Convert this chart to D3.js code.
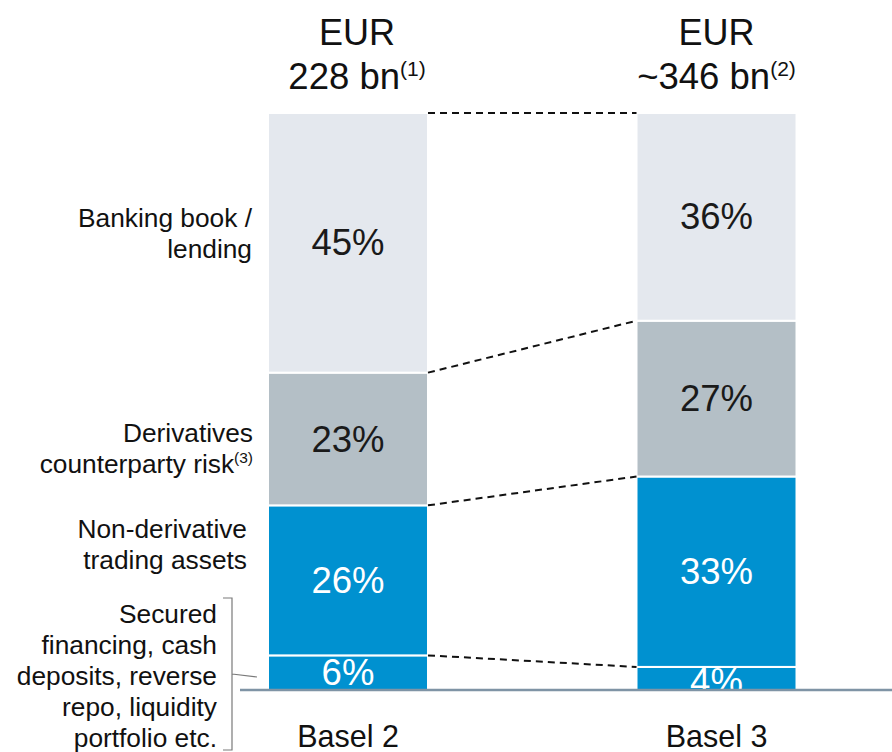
<!DOCTYPE html>
<html>
<head>
<meta charset="utf-8">
<script src="https://d3js.org/d3.v7.min.js"></script>
<style>
    body { margin: 0; background: #fff; }
    text { font-family: 'Liberation Sans', Arial, sans-serif; }
</style>
</head>
<body>
<div id="chart"></div>
<script>
    // chart data
    var periods = ["Basel 2", "Basel 3"];
    var totals = ["228 bn", "~346 bn"];
    var totalNotes = ["(1)", "(2)"];
    // stacked from the bottom up
    var segments = ["Secured financing", "Non-derivative trading", "Derivatives counterparty risk", "Banking book"];
    var basel2 = [6, 26, 23, 45];
    var basel3 = [4, 33, 27, 36];
    var values = [basel2, basel3];

    var width = 892, height = 752;
    var barWidth = 160;
    var colors = ["#0091d0", "#0091d0", "#b4bfc6", "#e4e8ee"];
    var textColors = ["#ffffff", "#ffffff", "#1a1a1a", "#1a1a1a"];

    var svg = d3.select("#chart").append("svg")
        .attr("width", width)
        .attr("height", height);

    var x = d3.scalePoint().domain(periods).range([348, 716.5]);
    var y = d3.scaleLinear().domain([0, 100]).range([690, 113]);

    // build stack
    var stacked = periods.map(function(p, i) {
        var acc = 0;
        return values[i].map(function(v, j) {
            var s = {period: p, idx: j, y0: acc, y1: acc + v, v: v};
            acc += v;
            return s;
        });
    });

    svg.append("clipPath").attr("id", "plotclip")
        .append("rect").attr("x", 0).attr("y", 0).attr("width", width).attr("height", y(0));

    var bars = svg.append("g").attr("clip-path", "url(#plotclip)");

    stacked.forEach(function(col) {
        bars.selectAll(null)
            .data(col)
            .enter()
            .append("rect")
            .attr("x", function(d) { return x(d.period) - barWidth / 2; })
            .attr("y", function(d) { return y(d.y1); })
            .attr("width", barWidth)
            .attr("height", function(d) { return y(d.y0) - y(d.y1); })
            .attr("fill", function(d) { return colors[d.idx]; })
            .attr("stroke", "#fff")
            .attr("stroke-width", 2);

        bars.selectAll(null)
            .data(col)
            .enter()
            .append("text")
            .attr("x", function(d) { return x(d.period); })
            .attr("y", function(d) {
                var c = (y(d.y0) + y(d.y1)) / 2;
                // small segments: keep label just under the top edge
                return Math.max(c, y(d.y1) + 15) + 12.5;
            })
            .attr("text-anchor", "middle")
            .attr("font-size", 36.5)
            .attr("fill", function(d) { return textColors[d.idx]; })
            .text(function(d) { return d.v + "%"; });
    });

    // dashed connectors between the two bars
    var cum1 = stacked[0].map(function(d) { return d.y1; });
    var cum2 = stacked[1].map(function(d) { return d.y1; });
    svg.selectAll(".connector")
        .data(d3.range(cum1.length))
        .enter()
        .append("line")
        .attr("class", "connector")
        .attr("x1", x(periods[0]) + barWidth / 2)
        .attr("x2", x(periods[1]) - barWidth / 2)
        .attr("y1", function(i) { return y(cum1[i]); })
        .attr("y2", function(i) { return y(cum2[i]); })
        .attr("stroke", "#111")
        .attr("stroke-width", 2)
        .attr("stroke-dasharray", "7,5");

    // baseline
    svg.append("line")
        .attr("x1", 240).attr("x2", width)
        .attr("y1", y(0)).attr("y2", y(0))
        .attr("stroke", "#7f94a5")
        .attr("stroke-width", 2.5);

    // totals on top
    periods.forEach(function(p, i) {
        var cx = x(p) + (i === 0 ? 9 : 0);
        svg.append("text")
            .attr("x", cx).attr("y", 45)
            .attr("text-anchor", "middle")
            .attr("font-size", 36)
            .attr("fill", "#111")
            .text("EUR");
        var t = svg.append("text")
            .attr("x", cx).attr("y", 89)
            .attr("text-anchor", "middle")
            .attr("font-size", 36.5)
            .attr("fill", "#111");
        t.append("tspan").text(totals[i]);
        t.append("tspan").attr("font-size", 21).attr("dy", -13).text(totalNotes[i]);

        // period labels at the bottom
        svg.append("text")
            .attr("x", x(p)).attr("y", 747)
            .attr("text-anchor", "middle")
            .attr("font-size", 30.5)
            .attr("fill", "#111")
            .text(p);
    });

    // left-hand segment labels
    function leftLabel(lines, xr, y0) {
        var t = svg.append("text")
            .attr("text-anchor", "end")
            .attr("font-size", 26.3)
            .attr("fill", "#111");
        lines.forEach(function(l, k) {
            var ts = t.append("tspan").attr("x", xr).attr("y", y0 + k * 31);
            if (typeof l === "string") {
                ts.text(l);
            } else {
                ts.text(l[0]);
                t.append("tspan").attr("font-size", 15.5).attr("dy", -10).text(l[1]);
            }
        });
    }
    leftLabel(["Banking book /", "lending"], 252, 227);
    leftLabel(["Derivatives", ["counterparty risk", "(3)"]], 253, 442);
    leftLabel(["Non-derivative", "trading assets"], 247, 538);
    leftLabel(["Secured", "financing, cash", "deposits, reverse", "repo, liquidity", "portfolio etc."], 217, 623);

    // bracket for the secured financing label
    svg.append("path")
        .attr("d", "M223,598 H232 V750 H223 M232,674 L257,677")
        .attr("fill", "none")
        .attr("stroke", "#7a7a7a")
        .attr("stroke-width", 1.2);
</script>
</body>
</html>
